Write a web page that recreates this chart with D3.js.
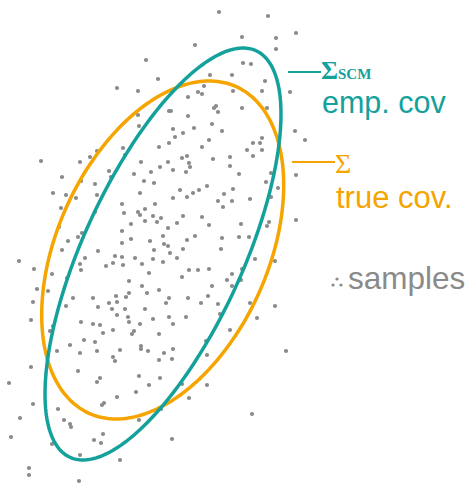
<!DOCTYPE html>
<html>
<head>
<meta charset="utf-8">
<script src="https://cdn.jsdelivr.net/npm/d3@7"></script>
<style>
  html, body { margin: 0; padding: 0; background: #fff; }
  svg { display: block; }
</style>
</head>
<body>
<svg id="chart" width="468" height="484"></svg>
<script>
// Sample coordinates (arbitrary units, y pointing up)
const sampleX = [
  19.5,14.6,15.8,11.7,13.8,18.8,19.8,16.9,17.1,18.8,13.8,
  21.9,26.8,29.6,24.2,27.6,27.6,24.3,25.1,21.0,23.2,26.5,20.4,23.3,26.2,29.0,20.2,21.6,21.4,21.8,24.2,26.7,
  4.1,8.0,9.0,9.7,6.2,8.1,9.5,5.3,6.6,7.6,9.7,6.1,9.5,5.9,8.2,7.8,6.8,
  13.9,17.3,18.3,19.4,17.5,16.9,15.9,12.3,12.5,18.2,18.7,18.9,19.0,14.1,16.8,16.0,10.9,11.1,13.4,15.1,17.3,18.6,
  14.4,15.4,18.0,19.9,19.3,14.0,17.3,18.7,12.2,15.5,14.5,12.4,13.8,14.0,15.3,16.1,18.3,14.5,15.7,17.7,13.1,16.8,
  12.2,16.3,13.1,15.0,18.7,19.5,
  21.2,22.2,29.5,26.2,20.9,25.3,26.0,20.2,24.7,26.2,25.3,21.3,23.0,23.0,23.9,27.1,29.6,26.6,20.7,23.3,27.8,22.4,
  27.1,25.0,21.8,23.2,22.3,20.2,29.6,24.1,26.9,26.7,20.9,22.2,23.9,24.9,30.5,
  6.2,1.9,8.5,9.8,8.0,8.1,3.4,5.2,6.7,3.7,4.8,3.3,7.3,9.3,6.6,9.8,3.1,8.1,9.3,5.3,5.0,8.4,9.5,7.0,5.7,8.0,9.7,
  12.2,16.4,16.8,15.4,18.3,17.0,11.5,12.2,13.5,15.3,17.7,11.3,10.6,12.3,14.2,16.3,18.9,19.8,14.9,18.2,12.9,14.2,
  15.9,14.7,12.9,11.6,12.6,16.9,18.8,10.9,11.7,16.6,11.2,12.5,14.5,11.7,12.8,16.9,18.6,15.3,12.9,17.3,14.0,10.0,
  11.3,10.3,13.4,13.2,15.9,14.1,14.1,12.0,14.8,16.4,17.3,11.3,11.5,15.9,17.2,
  22.1,25.5,27.5,20.9,24.2,23.2,22.7,24.1,21.2,23.2,20.8,20.1,21.8,25.0,27.5,22.0,25.7,23.0,20.6,20.7,28.6,
  3.1,7.8,0.9,10.0,9.7,13.9,14.9,16.0,13.6,18.2,20.7,18.9,11.7,3.3,10.2,10.4,5.8,16.1,2.0,6.4,7.0,7.1,13.9,1.1,
  10.3,9.4,10.1,17.2,5.2,8.0,12.0,2.9,2.9,7.9,25.2
];
const sampleY = [
  43.9,42.4,40.5,39.6,39.3,38.7,39.2,37.3,37.3,36.8,36.9,
  47.2,46.8,45.1,44.7,44.6,43.5,42.1,42.0,40.9,40.9,40.3,39.8,39.3,39.3,39.2,39.0,37.8,37.6,37.2,37.6,37.6,
  32.3,32.2,32.7,33.3,30.7,30.3,30.0,29.1,28.9,28.6,28.9,27.6,27.2,25.7,25.1,24.7,24.3,
  35.8,35.5,35.1,35.6,34.7,34.1,33.7,33.6,32.9,32.6,32.8,32.1,31.7,32.2,32.2,31.7,31.3,30.7,31.0,31.2,31.4,31.2,
  30.3,30.1,29.4,29.4,29.1,29.1,28.6,28.7,28.0,28.0,27.5,27.1,27.2,26.9,26.8,26.6,26.8,26.3,26.2,26.1,26.0,25.6,
  25.3,24.8,24.5,24.3,24.4,24.8,
  36.0,35.3,35.3,34.6,34.4,34.1,34.1,33.7,33.4,33.4,32.8,32.5,32.7,31.8,31.0,31.1,30.9,30.2,29.8,29.5,29.6,29.0,
  28.7,28.5,28.3,28.3,27.7,26.7,26.4,26.0,26.2,25.8,25.9,24.6,24.7,24.7,34.4,
  23.4,22.3,22.6,23.3,22.0,21.4,21.5,21.0,20.6,19.5,19.3,18.2,18.6,18.6,17.8,17.7,16.4,16.2,16.0,15.8,15.3,14.4,14.2,13.9,13.3,13.1,13.3,
  24.1,24.0,23.8,23.4,23.5,23.1,22.8,22.7,22.6,22.5,22.6,22.1,21.8,21.9,22.0,22.2,21.4,21.4,21.1,20.7,20.3,19.8,
  19.4,19.1,19.1,18.8,18.7,18.6,18.6,18.1,18.2,18.1,17.5,17.5,17.5,16.9,16.7,16.7,16.7,16.5,16.2,16.0,16.0,15.9,
  15.4,15.1,15.3,15.0,15.0,13.8,13.5,13.4,13.3,13.1,13.5,12.7,12.3,12.4,12.5,
  23.5,22.5,22.3,21.5,21.5,21.0,20.4,20.4,19.8,19.8,18.8,18.1,18.0,18.1,17.8,17.0,16.6,15.4,14.3,12.9,13.3,
  11.7,11.3,10.1,10.6,10.2,10.8,9.9,10.6,9.2,10.0,9.9,8.6,8.7,8.0,7.9,8.1,7.5,7.5,6.6,6.4,6.0,5.7,6.4,4.7,
  5.0,4.4,4.1,4.5,4.0,2.9,2.4,1.6,0.9,0.3,7.0
];

// Empirical (sample) covariance and mean
const empMean = [16.3, 23.0];
const empCov  = [[139.2, 165.0], [165.0, 424.4]];
// True covariance and mean
const trueMean = [16.27, 23.4];
const trueCov  = [[146.4, 78.5], [78.5, 285.6]];

// Legend texts
const labels = {
  empSym: "\u03A3", empSub: "SCM", empText: "emp. cov",
  trueSym: "\u03A3", trueText: "true cov.",
  samples: "samples"
};
const legendDotsX = [33.3, 33.7, 34.1];
const legendDotsY = [19.9, 20.5, 19.9];

const TEAL = "#14a19c";
const ORANGE = "#f5a400";
const GREY = "#8a8a8a";

const W = 468, H = 484;
const x = d3.scaleLinear().domain([0, 46.8]).range([0, W]);
const y = d3.scaleLinear().domain([0, 48.4]).range([H, 0]);

const svg = d3.select("#chart");

// scatter of samples
const pts = d3.range(sampleX.length).map(i => [sampleX[i], sampleY[i]]);
svg.append("g")
  .selectAll("circle")
  .data(pts)
  .join("circle")
  .attr("cx", d => x(d[0]))
  .attr("cy", d => y(d[1]))
  .attr("r", 2.1)
  .attr("fill", GREY);

// 1-sigma ellipse from a mean and 2x2 covariance (Cholesky factor maps the unit circle)
function ellipsePoints(mean, cov, n = 240) {
  const l11 = Math.sqrt(cov[0][0]);
  const l21 = cov[1][0] / l11;
  const l22 = Math.sqrt(cov[1][1] - l21 * l21);
  return d3.range(n).map(i => {
    const t = 2 * Math.PI * i / n;
    const c = Math.cos(t), s = Math.sin(t);
    return [mean[0] + l11 * c, mean[1] + l21 * c + l22 * s];
  });
}
const line = d3.line().x(d => x(d[0])).y(d => y(d[1])).curve(d3.curveLinearClosed);

svg.append("path")
  .attr("d", line(ellipsePoints(trueMean, trueCov)))
  .attr("fill", "none").attr("stroke", ORANGE).attr("stroke-width", 3.5);
svg.append("path")
  .attr("d", line(ellipsePoints(empMean, empCov)))
  .attr("fill", "none").attr("stroke", TEAL).attr("stroke-width", 3.5);

// legend: empirical covariance
const lg = svg.append("g");
lg.append("line").attr("x1", 288).attr("x2", 321).attr("y1", 72).attr("y2", 72)
  .attr("stroke", TEAL).attr("stroke-width", 2);
const t1 = lg.append("text").attr("x", 321).attr("y", 79)
  .attr("fill", TEAL).attr("font-family", "'Liberation Serif', serif").attr("font-weight", "bold");
t1.append("tspan").attr("font-size", 26).text(labels.empSym);
t1.append("tspan").attr("font-size", 15).text(labels.empSub);
lg.append("text").attr("x", 322).attr("y", 113)
  .attr("fill", TEAL).attr("font-family", "'Liberation Sans', Arial, sans-serif")
  .attr("font-size", 30.5).text(labels.empText);

// legend: true covariance
lg.append("line").attr("x1", 292).attr("x2", 335).attr("y1", 162).attr("y2", 162)
  .attr("stroke", ORANGE).attr("stroke-width", 2);
lg.append("text").attr("x", 335).attr("y", 173)
  .attr("fill", ORANGE).attr("font-family", "'Liberation Serif', serif")
  .attr("font-size", 28).text(labels.trueSym);
lg.append("text").attr("x", 336).attr("y", 208)
  .attr("fill", ORANGE).attr("font-family", "'Liberation Sans', Arial, sans-serif")
  .attr("font-size", 31).text(labels.trueText);

// legend: samples
lg.selectAll("circle.key")
  .data(d3.range(legendDotsX.length))
  .join("circle").attr("class", "key")
  .attr("cx", i => x(legendDotsX[i]))
  .attr("cy", i => y(legendDotsY[i]))
  .attr("r", 1.6).attr("fill", GREY);
lg.append("text").attr("x", 348).attr("y", 289)
  .attr("fill", GREY).attr("font-family", "'Liberation Sans', Arial, sans-serif")
  .attr("font-size", 31.5).text(labels.samples);
</script>
</body>
</html>
